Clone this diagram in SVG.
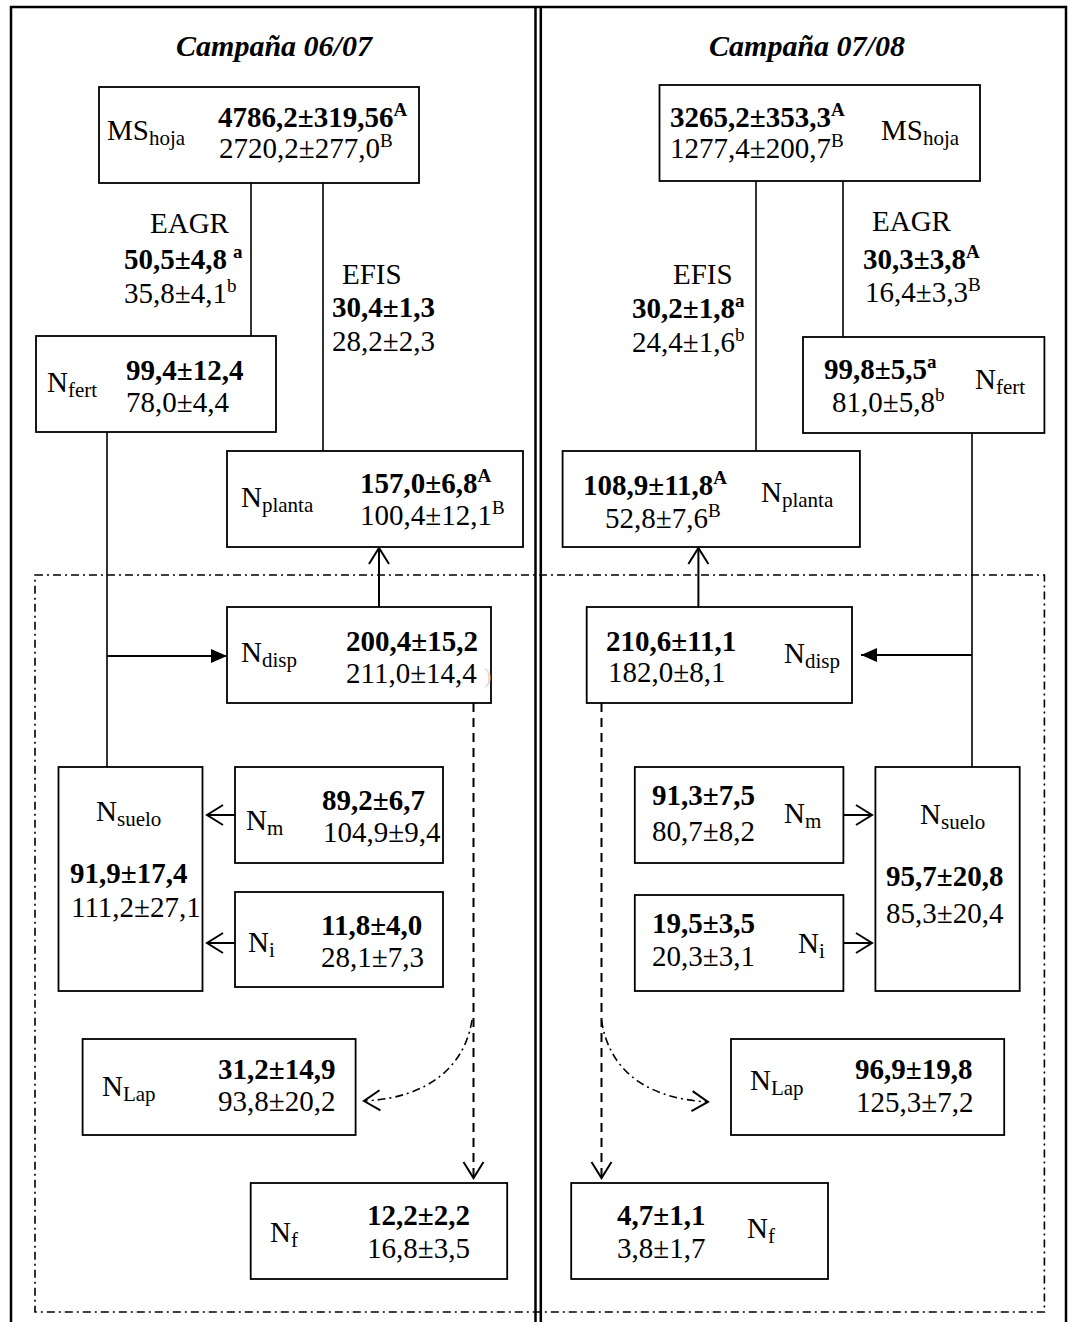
<svg xmlns="http://www.w3.org/2000/svg" width="1068" height="1322" viewBox="0 0 1068 1322">
<style>
text{font-family:"Liberation Serif","Times New Roman",serif;font-size:29px;fill:#000}
.b{font-weight:bold}
.ti{font-weight:bold;font-style:italic;font-size:30px}
.sub{font-size:21px}
.sup{font-size:19px}
.box{fill:#fff;stroke:#000;stroke-width:1.8}
.ln{stroke:#000;stroke-width:1.6;fill:none}
.ar{stroke:#000;stroke-width:2;fill:none}
.dash{stroke:#000;stroke-width:2;fill:none;stroke-dasharray:9 6}
.dd{stroke:#000;stroke-width:1.6;fill:none;stroke-dasharray:8 4 2 4}
.frame{stroke:#000;stroke-width:2.5;fill:none}
</style>
<defs>
<marker id="openV" markerUnits="userSpaceOnUse" markerWidth="30" markerHeight="30" viewBox="-20 -15 30 30" refX="0" refY="0" orient="auto">
<path d="M-16,-10 L0,0 L-16,10" fill="none" stroke="#000" stroke-width="2"/>
</marker>
<marker id="fill" markerUnits="userSpaceOnUse" markerWidth="30" markerHeight="30" viewBox="-20 -15 30 30" refX="0" refY="0" orient="auto">
<path d="M-16,-7 L0,0 L-16,7 Z" fill="#000"/>
</marker>
</defs>
<rect width="1068" height="1322" fill="#fff"/>
<g id="frame">
<path class="frame" d="M11,1322 V7 H1066 V1322"/>
<line class="frame" x1="535.5" y1="7" x2="535.5" y2="1322"/>
<line class="frame" x1="540.8" y1="7" x2="540.8" y2="1322"/>
<rect class="dd" x="35" y="575" width="1009.4" height="737"/>
</g>
<g id="titles">
<text class="ti" x="274" y="56" text-anchor="middle">Campaña 06/07</text>
<text class="ti" x="807" y="56" text-anchor="middle">Campaña 07/08</text>
</g>
<g id="connectors">
<line class="ln" x1="251" y1="183" x2="251" y2="336"/>
<line class="ln" x1="323" y1="183" x2="323" y2="451"/>
<line class="ln" x1="107" y1="432" x2="107" y2="767"/>
<line class="ar" x1="107" y1="656" x2="227" y2="656" marker-end="url(#fill)"/>
<line class="ar" x1="379" y1="607" x2="379" y2="548" marker-end="url(#openV)"/>
<line class="dash" x1="473.5" y1="703" x2="473.5" y2="1178" marker-end="url(#openV)"/>
<line class="ar" x1="235" y1="815" x2="207" y2="815" marker-end="url(#openV)"/>
<line class="ar" x1="235" y1="943" x2="207" y2="943" marker-end="url(#openV)"/>
<path class="dd" d="M472,1020 C465,1065 430,1098 364,1101" marker-end="url(#openV)"/>
<line class="ln" x1="756" y1="181" x2="756" y2="451"/>
<line class="ln" x1="843" y1="181" x2="843" y2="337"/>
<line class="ln" x1="972" y1="433" x2="972" y2="767"/>
<line class="ar" x1="972" y1="655" x2="861" y2="655" marker-end="url(#fill)"/>
<line class="ar" x1="698.4" y1="607" x2="698.4" y2="548" marker-end="url(#openV)"/>
<line class="dash" x1="601.5" y1="703" x2="601.5" y2="1178" marker-end="url(#openV)"/>
<line class="ar" x1="843.4" y1="815" x2="872" y2="815" marker-end="url(#openV)"/>
<line class="ar" x1="843.4" y1="943" x2="872" y2="943" marker-end="url(#openV)"/>
<path class="dd" d="M601.5,1020 C608,1065 640,1098 708,1102" marker-end="url(#openV)"/>
</g>
<g id="labels">
<text x="150" y="233">EAGR</text>
<text class="b" x="124" y="269">50,5±4,8<tspan class="sup" dx="6" dy="-11">a</tspan></text>
<text x="124" y="303">35,8±4,1<tspan class="sup" dy="-11">b</tspan></text>
<text x="342" y="284">EFIS</text>
<text class="b" x="332" y="317">30,4±1,3</text>
<text x="332" y="351">28,2±2,3</text>
<text x="673" y="284">EFIS</text>
<text class="b" x="632" y="318">30,2±1,8<tspan class="sup" dy="-11">a</tspan></text>
<text x="632" y="352">24,4±1,6<tspan class="sup" dy="-11">b</tspan></text>
<text x="872" y="231">EAGR</text>
<text class="b" x="863" y="269">30,3±3,8<tspan class="sup" dy="-11">A</tspan></text>
<text x="865" y="302">16,4±3,3<tspan class="sup" dy="-11">B</tspan></text>
</g>
<g id="ms1">
<rect class="box" x="99" y="87" width="320" height="96"/>
<text x="107" y="140">MS<tspan class="sub" dy="5">hoja</tspan></text>
<text class="b" x="218" y="127">4786,2±319,56<tspan class="sup" dy="-11">A</tspan></text>
<text x="219" y="158">2720,2±277,0<tspan class="sup" dy="-11">B</tspan></text>
</g>
<g id="nfert1">
<rect class="box" x="36" y="336" width="240" height="96"/>
<text x="47" y="392">N<tspan class="sub" dy="5">fert</tspan></text>
<text class="b" x="126" y="380">99,4±12,4</text>
<text x="126" y="412">78,0±4,4</text>
</g>
<g id="nplanta1">
<rect class="box" x="227" y="451" width="296" height="96"/>
<text x="241" y="507">N<tspan class="sub" dy="5">planta</tspan></text>
<text class="b" x="360" y="493">157,0±6,8<tspan class="sup" dy="-11">A</tspan></text>
<text x="360" y="525">100,4±12,1<tspan class="sup" dy="-11">B</tspan></text>
</g>
<g id="ndisp1">
<rect class="box" x="227" y="607" width="264" height="96"/>
<text x="241" y="662">N<tspan class="sub" dy="5">disp</tspan></text>
<text class="b" x="346" y="651">200,4±15,2</text>
<text x="346" y="683">211,0±14,4</text>
<text x="484" y="683" style="fill:#d8d8d8;font-size:22px">)</text>
</g>
<g id="nsuelo1">
<rect class="box" x="58.5" y="767" width="144" height="224"/>
<text x="96" y="821">N<tspan class="sub" dy="5">suelo</tspan></text>
<text class="b" x="70" y="883">91,9±17,4</text>
<text x="71" y="917">111,2±27,1</text>
</g>
<g id="nm1">
<rect class="box" x="235" y="767" width="208" height="96"/>
<text x="246" y="830">N<tspan class="sub" dy="5">m</tspan></text>
<text class="b" x="322" y="810">89,2±6,7</text>
<text x="323" y="842">104,9±9,4</text>
</g>
<g id="ni1">
<rect class="box" x="235" y="892" width="208" height="95"/>
<text x="248" y="952">N<tspan class="sub" dy="5">i</tspan></text>
<text class="b" x="321" y="935">11,8±4,0</text>
<text x="321" y="967">28,1±7,3</text>
</g>
<g id="nlap1">
<rect class="box" x="82.6" y="1039" width="273" height="96"/>
<text x="102" y="1096">N<tspan class="sub" dy="5">Lap</tspan></text>
<text class="b" x="218" y="1079">31,2±14,9</text>
<text x="218" y="1111">93,8±20,2</text>
</g>
<g id="nf1">
<rect class="box" x="250.7" y="1183" width="256.5" height="96"/>
<text x="270" y="1242">N<tspan class="sub" dy="5">f</tspan></text>
<text class="b" x="367" y="1225">12,2±2,2</text>
<text x="367" y="1258">16,8±3,5</text>
</g>
<g id="ms2">
<rect class="box" x="659.5" y="85" width="320.5" height="96"/>
<text class="b" x="670" y="127">3265,2±353,3<tspan class="sup" dy="-11">A</tspan></text>
<text x="670" y="158">1277,4±200,7<tspan class="sup" dy="-11">B</tspan></text>
<text x="881" y="140">MS<tspan class="sub" dy="5">hoja</tspan></text>
</g>
<g id="nfert2">
<rect class="box" x="803" y="337" width="241.4" height="96"/>
<text class="b" x="824" y="379">99,8±5,5<tspan class="sup" dy="-11">a</tspan></text>
<text x="832" y="412">81,0±5,8<tspan class="sup" dy="-11">b</tspan></text>
<text x="975" y="389">N<tspan class="sub" dy="5">fert</tspan></text>
</g>
<g id="nplanta2">
<rect class="box" x="562.6" y="451" width="297.3" height="96"/>
<text class="b" x="583" y="495">108,9±11,8<tspan class="sup" dy="-11">A</tspan></text>
<text x="605" y="528">52,8±7,6<tspan class="sup" dy="-11">B</tspan></text>
<text x="761" y="502">N<tspan class="sub" dy="5">planta</tspan></text>
</g>
<g id="ndisp2">
<rect class="box" x="586.7" y="607" width="265.3" height="96"/>
<text class="b" x="606" y="651">210,6±11,1</text>
<text x="608" y="682">182,0±8,1</text>
<text x="784" y="663">N<tspan class="sub" dy="5">disp</tspan></text>
</g>
<g id="nm2">
<rect class="box" x="634.8" y="767" width="208.6" height="96"/>
<text class="b" x="652" y="805">91,3±7,5</text>
<text x="652" y="841">80,7±8,2</text>
<text x="784" y="823">N<tspan class="sub" dy="5">m</tspan></text>
</g>
<g id="nsuelo2">
<rect class="box" x="875.4" y="767" width="144.3" height="224"/>
<text x="920" y="824">N<tspan class="sub" dy="5">suelo</tspan></text>
<text class="b" x="886" y="886">95,7±20,8</text>
<text x="886" y="923">85,3±20,4</text>
</g>
<g id="ni2">
<rect class="box" x="634.8" y="895" width="208.6" height="96"/>
<text class="b" x="652" y="933">19,5±3,5</text>
<text x="652" y="966">20,3±3,1</text>
<text x="798" y="953">N<tspan class="sub" dy="5">i</tspan></text>
</g>
<g id="nlap2">
<rect class="box" x="731" y="1039" width="273.2" height="96"/>
<text x="750" y="1090">N<tspan class="sub" dy="5">Lap</tspan></text>
<text class="b" x="855" y="1079">96,9±19,8</text>
<text x="856" y="1112">125,3±7,2</text>
</g>
<g id="nf2">
<rect class="box" x="571.2" y="1183" width="256.8" height="96"/>
<text class="b" x="617" y="1225">4,7±1,1</text>
<text x="617" y="1258">3,8±1,7</text>
<text x="747" y="1238">N<tspan class="sub" dy="5">f</tspan></text>
</g>
</svg>
